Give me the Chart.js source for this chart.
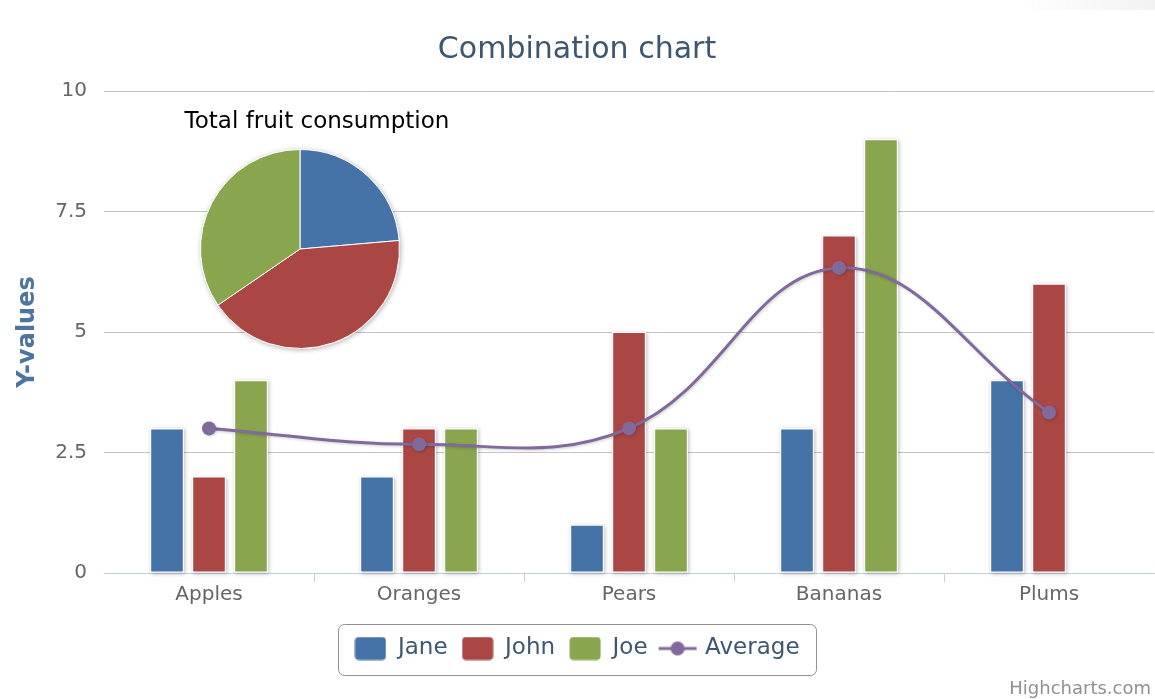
<!DOCTYPE html>
<html>
<head>
<meta charset="utf-8">
<title>Combination chart</title>
<script src="https://cdn.jsdelivr.net/npm/chart.js@4.4.0/dist/chart.umd.min.js"></script>
<style>
  html, body { margin: 0; padding: 0; background: #fff; }
  #wrap { position: relative; width: 1155px; height: 699px; overflow: hidden; }
  #main { position: absolute; left: 0; top: 0; }
  #pie { position: absolute; left: 180px; top: 129px; }
  #corner { position: absolute; right: 0; top: 0; width: 135px; height: 10px;
            background: linear-gradient(to right, rgba(243,243,243,0), #f2f2f2); }
</style>
</head>
<body>
<div id="wrap">
  <canvas id="main" width="1155" height="699"></canvas>
  <canvas id="pie" width="240" height="240"></canvas>
  <div id="corner"></div>
</div>
<script>
// Fruit eaten per person, plus the per-fruit average
const categories = ['Apples', 'Oranges', 'Pears', 'Bananas', 'Plums'];
const janeValues = [3, 2, 1, 3, 4];
const johnValues = [2, 3, 5, 7, 6];
const joeValues = [4, 3, 3, 9, 0];
const averageValues = [3, 2.67, 3, 6.33, 3.33];

// Totals per person for the pie
const pieLabels = ['Jane', 'John', 'Joe'];
const pieTotals = [13, 23, 19];

const yTicks = [0, 2.5, 5, 7.5, 10];

const COLORS = { jane: '#4572A7', john: '#AA4643', joe: '#89A54E', avg: '#80699B' };

Chart.defaults.font.family = '"DejaVu Sans", Verdana, sans-serif';

// Legend symbols: rounded squares for columns, line + marker for the spline
function swatch(color) {
  const c = document.createElement('canvas');
  c.width = 32; c.height = 24;
  const g = c.getContext('2d');
  g.fillStyle = color;
  g.beginPath();
  g.roundRect(0.5, 0.5, 31, 23, 4);
  g.fill();
  return c;
}
function lineSwatch(color) {
  const c = document.createElement('canvas');
  c.width = 40; c.height = 18;
  const g = c.getContext('2d');
  g.strokeStyle = color; g.lineWidth = 3;
  g.beginPath(); g.moveTo(1, 9); g.lineTo(39, 9); g.stroke();
  g.fillStyle = color;
  g.beginPath(); g.arc(20, 9, 7, 0, Math.PI * 2); g.fill();
  return c;
}
const legendSymbols = [swatch(COLORS.jane), swatch(COLORS.john), swatch(COLORS.joe), lineSwatch(COLORS.avg)];

const decorations = {
  id: 'decorations',
  beforeDatasetsDraw(chart) {
    // soft drop shadows behind the columns
    const ctx = chart.ctx;
    ctx.save();
    ctx.shadowColor = 'rgba(0,0,0,0.25)';
    ctx.shadowBlur = 4;
    ctx.shadowOffsetX = 1;
    ctx.shadowOffsetY = 1;
    ctx.fillStyle = '#ffffff';
    chart.data.datasets.forEach((ds, i) => {
      if (ds.type !== 'bar') return;
      chart.getDatasetMeta(i).data.forEach(bar => {
        const p = bar.getProps(['x', 'y', 'base', 'width'], true);
        const h = p.base - p.y;
        if (h <= 0) return;
        ctx.fillRect(p.x - p.width / 2, p.y, p.width, h);
      });
    });
    ctx.restore();
  },
  beforeDatasetDraw(chart, args) {
    if (chart.data.datasets[args.index].type === 'line') {
      const ctx = chart.ctx;
      ctx.save();
      ctx.shadowColor = 'rgba(0,0,0,0.2)';
      ctx.shadowBlur = 3;
      ctx.shadowOffsetX = 1;
      ctx.shadowOffsetY = 1;
    }
  },
  afterDatasetDraw(chart, args) {
    if (chart.data.datasets[args.index].type === 'line') chart.ctx.restore();
  },
  afterDraw(chart) {
    const ctx = chart.ctx;
    // rounded frame around the legend
    const boxes = chart.legend.legendHitBoxes;
    if (boxes && boxes.length) {
      let l = Infinity, r = -Infinity, cy = 0;
      boxes.forEach(b => { l = Math.min(l, b.left); r = Math.max(r, b.left + b.width); cy = b.top + b.height / 2; });
      ctx.save();
      ctx.strokeStyle = '#909090';
      ctx.lineWidth = 1;
      ctx.beginPath();
      ctx.roundRect(Math.round(l - 16) + 0.5, Math.round(cy - 25) + 0.5, Math.round(r - l + 33), 51, 6);
      ctx.stroke();
      ctx.restore();
    }
    // caption over the pie and credits line
    ctx.save();
    ctx.textBaseline = 'middle';
    ctx.textAlign = 'center';
    ctx.fillStyle = '#000000';
    ctx.font = '23px "DejaVu Sans", Verdana, sans-serif';
    ctx.fillText('Total fruit consumption', 317, 122);
    ctx.textAlign = 'right';
    ctx.fillStyle = '#909090';
    ctx.font = '18px "DejaVu Sans", Verdana, sans-serif';
    ctx.fillText('Highcharts.com', 1151, 689);
    ctx.restore();
  }
};

new Chart(document.getElementById('main'), {
  type: 'bar',
  data: {
    labels: categories,
    datasets: [
      { type: 'bar', label: 'Jane', data: janeValues, backgroundColor: COLORS.jane,
        borderColor: '#ffffff', borderWidth: 1, borderSkipped: false },
      { type: 'bar', label: 'John', data: johnValues, backgroundColor: COLORS.john,
        borderColor: '#ffffff', borderWidth: 1, borderSkipped: false },
      { type: 'bar', label: 'Joe', data: joeValues, backgroundColor: COLORS.joe,
        borderColor: '#ffffff', borderWidth: 1, borderSkipped: false },
      { type: 'line', label: 'Average', data: averageValues, order: -1,
        borderColor: COLORS.avg, backgroundColor: COLORS.avg, borderWidth: 3,
        tension: 0.4, fill: false, pointRadius: 7, pointBorderWidth: 0,
        pointBackgroundColor: COLORS.avg }
    ]
  },
  options: {
    responsive: false,
    animation: false,
    events: [],
    categoryPercentage: 0.6,
    barPercentage: 0.8,
    layout: { autoPadding: false, padding: { top: 0, left: 0, right: 1, bottom: 29 } },
    scales: {
      x: {
        type: 'category',
        offset: true,
        grid: {
          offset: true,
          drawOnChartArea: false,
          drawTicks: true,
          tickLength: 9,
          color: c => (c.index === 0 || c.index === undefined) ? 'rgba(0,0,0,0)' : '#C0D0E0'
        },
        border: { display: true, color: '#C0D0E0', width: 1 },
        ticks: { color: '#666666', font: { size: 20, lineHeight: 1 }, padding: 3, maxRotation: 0 },
        afterFit: s => { s.height = 50; s.paddingLeft = 0; s.paddingRight = 0; }
      },
      y: {
        min: 0,
        max: 10,
        afterBuildTicks: s => { s.ticks = yTicks.map(v => ({ value: v })); },
        grid: {
          drawTicks: false,
          color: c => (c.tick && c.tick.value === 0) ? 'rgba(0,0,0,0)' : '#C4C4C4'
        },
        border: { display: false },
        ticks: { color: '#666666', font: { size: 20 }, padding: 17, callback: v => String(v) },
        title: { display: true, text: 'Y-values', color: '#4D759E',
                 font: { size: 24, weight: 'bold' }, padding: { top: 13, bottom: 0 } },
        afterFit: s => { s.width = 104; }
      }
    },
    plugins: {
      title: {
        display: true, text: 'Combination chart', color: '#3E576F',
        font: { size: 30, weight: 'normal' }, padding: { top: 32, bottom: 23 }
      },
      legend: {
        position: 'bottom',
        align: 'center',
        labels: {
          usePointStyle: true,
          pointStyleWidth: 32,
          boxHeight: 23,
          padding: 14,
          color: '#3E576F',
          font: { size: 23 },
          generateLabels(chart) {
            const items = Chart.defaults.plugins.legend.labels.generateLabels(chart);
            items.sort((a, b) => a.datasetIndex - b.datasetIndex);
            items.forEach(it => { it.pointStyle = legendSymbols[it.datasetIndex]; it.lineWidth = 0; });
            return items;
          }
        }
      },
      tooltip: { enabled: false }
    }
  },
  plugins: [decorations]
});

// shadowed disc under the pie slices
const pieShadow = {
  id: 'pieShadow',
  beforeDatasetsDraw(chart) {
    const arc = chart.getDatasetMeta(0).data[0];
    if (!arc) return;
    const ctx = chart.ctx;
    ctx.save();
    ctx.shadowColor = 'rgba(0,0,0,0.3)';
    ctx.shadowBlur = 5;
    ctx.shadowOffsetX = 1;
    ctx.shadowOffsetY = 1;
    ctx.fillStyle = '#ffffff';
    ctx.beginPath();
    ctx.arc(arc.x, arc.y, arc.outerRadius + 0.5, 0, Math.PI * 2);
    ctx.fill();
    ctx.restore();
  }
};

new Chart(document.getElementById('pie'), {
  type: 'pie',
  data: {
    labels: pieLabels,
    datasets: [{
      data: pieTotals,
      backgroundColor: [COLORS.jane, COLORS.john, COLORS.joe],
      borderColor: '#ffffff',
      borderWidth: 1
    }]
  },
  options: {
    responsive: false,
    animation: false,
    events: [],
    layout: { padding: 20 },
    plugins: { legend: { display: false }, tooltip: { enabled: false } }
  },
  plugins: [pieShadow]
});
</script>
</body>
</html>
